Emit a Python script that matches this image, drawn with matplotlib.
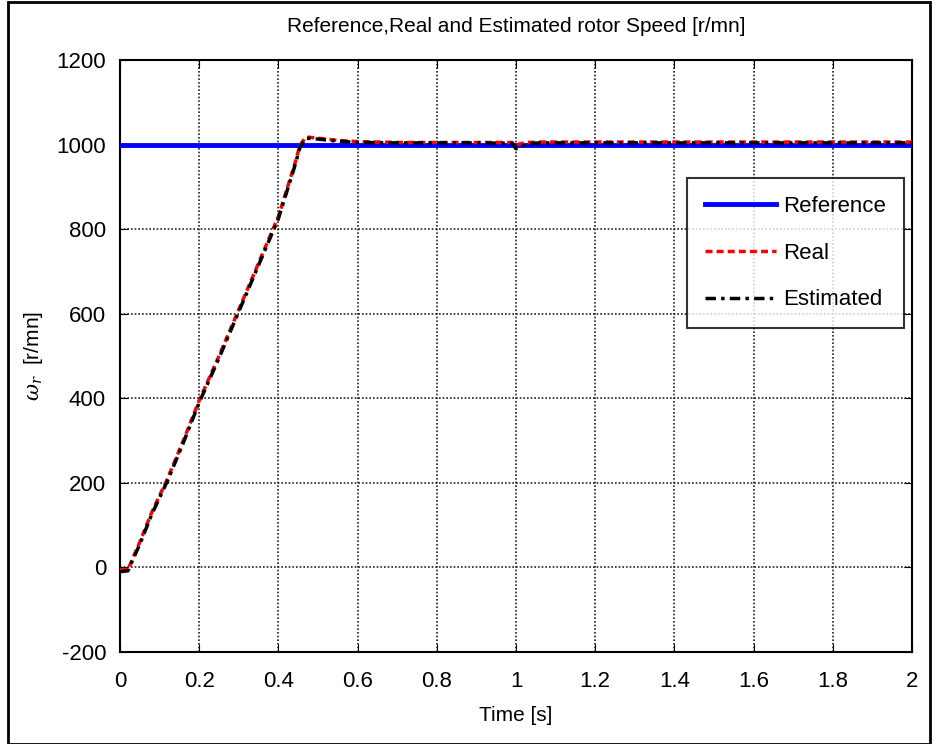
import matplotlib
matplotlib.use("Agg")
import matplotlib.pyplot as plt
from matplotlib.patches import Rectangle
import numpy as np

# Data
t_ref = [0.0, 2.0]
w_ref = [1000, 1000]

t_real = [0.0, 0.02, 0.05, 0.08, 0.12, 0.16, 0.20, 0.25, 0.30, 0.35, 0.40, 0.44, 0.455, 0.47, 0.50, 0.55, 0.60, 0.70, 0.80, 0.90, 0.99, 1.00, 1.01, 1.03, 1.06, 1.20, 1.50, 1.80, 2.00]
w_real = [-5, -5, 60, 130, 210, 300, 395, 500, 610, 720, 830, 950, 1000, 1018, 1015, 1010, 1007, 1005, 1005, 1005, 1005, 998, 1002, 1005, 1006, 1006, 1006, 1006, 1006]

t_est = [0.0, 0.02, 0.05, 0.08, 0.12, 0.16, 0.20, 0.25, 0.30, 0.35, 0.40, 0.44, 0.455, 0.47, 0.50, 0.55, 0.60, 0.70, 0.80, 0.90, 0.99, 1.00, 1.01, 1.03, 1.06, 1.20, 1.50, 1.80, 2.00]
w_est = [-10, -8, 55, 125, 205, 295, 390, 495, 605, 715, 825, 945, 995, 1015, 1013, 1008, 1005, 1004, 1004, 1004, 1003, 990, 995, 1002, 1004, 1004, 1004, 1004, 1004]

xticks = [0, 0.2, 0.4, 0.6, 0.8, 1, 1.2, 1.4, 1.6, 1.8, 2]
xticklabels = ["0", "0.2", "0.4", "0.6", "0.8", "1", "1.2", "1.4", "1.6", "1.8", "2"]
yticks = [-200, 0, 200, 400, 600, 800, 1000, 1200]

plt.rcParams['font.family'] = ['Liberation Sans Narrow', 'Liberation Sans', 'DejaVu Sans']
plt.rcParams['mathtext.fontset'] = 'dejavuserif'
plt.rcParams['axes.unicode_minus'] = False

fig = plt.figure(figsize=(9.35, 7.44), dpi=100)
W, H = 935, 744
ax = fig.add_axes([120 / W, 1 - 652 / H, 792 / W, 592 / H])

ax.plot(t_ref, w_ref, color='#0000ff', lw=3.5, label='Reference', zorder=3)
ax.plot(t_real, w_real, color='#ff0000', lw=2.5, ls=(0, (2, 1.2)), label='Real', zorder=4)
ax.plot(t_est, w_est, color='black', lw=2.5, ls=(0, (3, 1.5, 1, 1.5)), label='Estimated', zorder=5)

ax.set_xlim(0, 2)
ax.set_ylim(-200, 1200)
ax.set_xticks(xticks)
ax.set_xticklabels(xticklabels)
ax.set_yticks(yticks)
ax.grid(True, color='#222222', ls=(0, (1, 1.2)), lw=1.2)
ax.tick_params(axis='x', labelsize=16, direction='in', length=6, top=True, pad=14)
ax.tick_params(axis='y', labelsize=16, direction='in', length=6, right=True, pad=10)
for s in ax.spines.values():
    s.set_linewidth(1.5)

ax.set_title('Reference,Real and Estimated rotor Speed [r/mn]', fontsize=15, pad=20)
ax.set_xlabel('Time [s]', fontsize=15, labelpad=10)
ax.set_ylabel(r'$\omega_r$  [r/mn]', fontsize=15, labelpad=8)

leg = ax.legend(loc='upper right', bbox_to_anchor=(0.99, 0.80), borderaxespad=0, fontsize=16,
                handlelength=3.2, frameon=True, fancybox=False, edgecolor='black',
                borderpad=0.8, labelspacing=1.15, handletextpad=0.35)
leg.get_frame().set_linewidth(1.5)

fig.patches.append(Rectangle((8 / W, 0), (930 - 8) / W, 1 - 2 / H, transform=fig.transFigure,
                             fill=False, edgecolor='black', lw=2))

fig.savefig('out.png', dpi=100)
